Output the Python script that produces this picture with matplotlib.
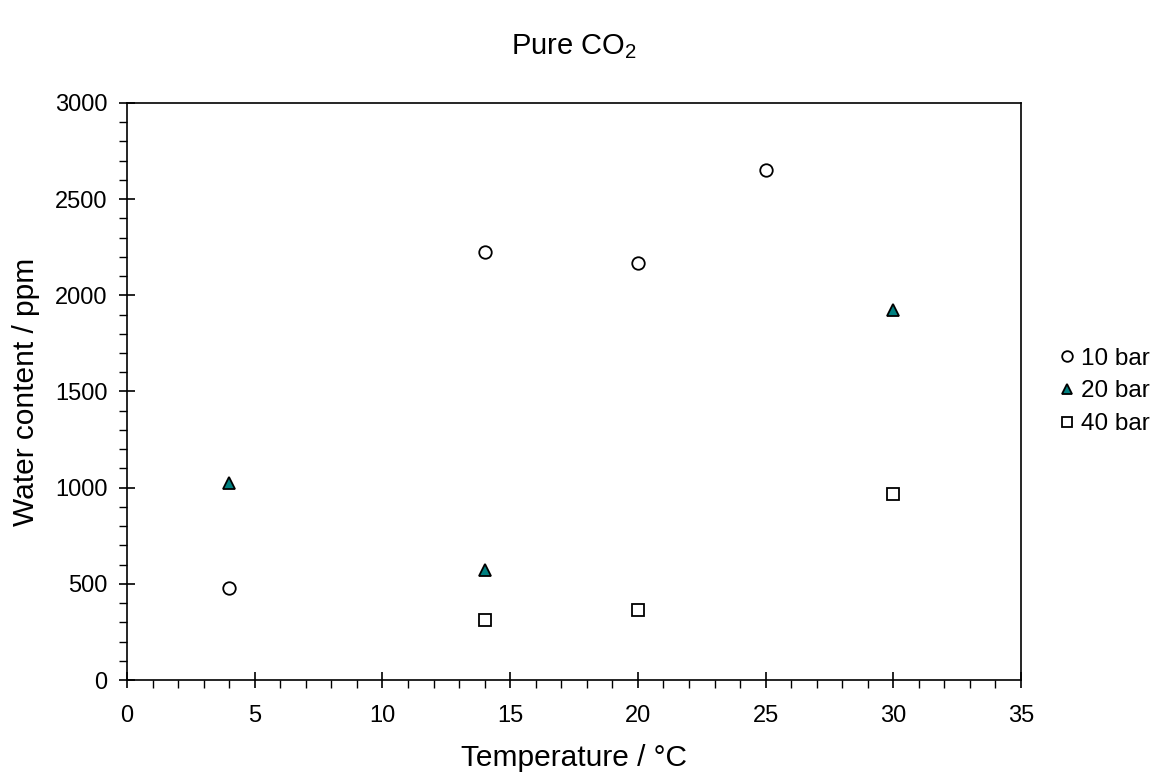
import matplotlib
matplotlib.use('Agg')
import matplotlib.pyplot as plt
from matplotlib.ticker import MultipleLocator

plt.rcParams['font.family'] = ['Liberation Sans', 'DejaVu Sans']
plt.rcParams['mathtext.fontset'] = 'custom'
plt.rcParams['mathtext.rm'] = 'Liberation Sans'
plt.rcParams['mathtext.default'] = 'regular'

# data
temp_10 = [4, 14, 20, 25]
water_10 = [478, 2226, 2168, 2652]
temp_20 = [4, 14, 30]
water_20 = [1022, 570, 1924]
temp_40 = [14, 20, 30]
water_40 = [310, 362, 965]

fig = plt.figure(figsize=(11.58, 7.76), dpi=100)
ax = fig.add_axes([0.1097, 0.1237, 0.772, 0.7436])

ax.plot(temp_10, water_10, 'o', ms=9, mfc='white', mec='black', mew=1.3, label='10 bar', clip_on=False)
ax.plot(temp_20, water_20, '^', ms=9, mfc='#008080', mec='black', mew=1.3, label='20 bar', clip_on=False)
ax.plot(temp_40, water_40, 's', ms=9, mfc='white', mec='black', mew=1.3, label='40 bar', clip_on=False)

ax.set_xlim(0, 35)
ax.set_ylim(0, 3000)
ax.xaxis.set_major_locator(MultipleLocator(5))
ax.xaxis.set_minor_locator(MultipleLocator(1))
ax.yaxis.set_major_locator(MultipleLocator(500))
ax.yaxis.set_minor_locator(MultipleLocator(100))
ax.tick_params(which='major', direction='inout', length=12, width=1.2, labelsize=17)
ax.tick_params(which='minor', direction='out', length=6, width=1.0)
ax.tick_params(axis='x', which='major', pad=12)
ax.tick_params(axis='y', which='major', pad=8)
for s in ax.spines.values():
    s.set_linewidth(1.2)

ax.set_xlabel('Temperature / °C', fontsize=21.5, labelpad=12)
ax.set_ylabel('Water content / ppm', fontsize=21.5, labelpad=11)
fig.text(0.4957, 0.94, 'Pure CO$_2$', ha='center', va='center', fontsize=21)

ax.legend(loc='center left', bbox_to_anchor=(1.013, 0.5), frameon=False, fontsize=17.5,
          handletextpad=0.1, handlelength=1.0, markerscale=0.85, labelspacing=0.45)

fig.savefig('out.png', dpi=100)
